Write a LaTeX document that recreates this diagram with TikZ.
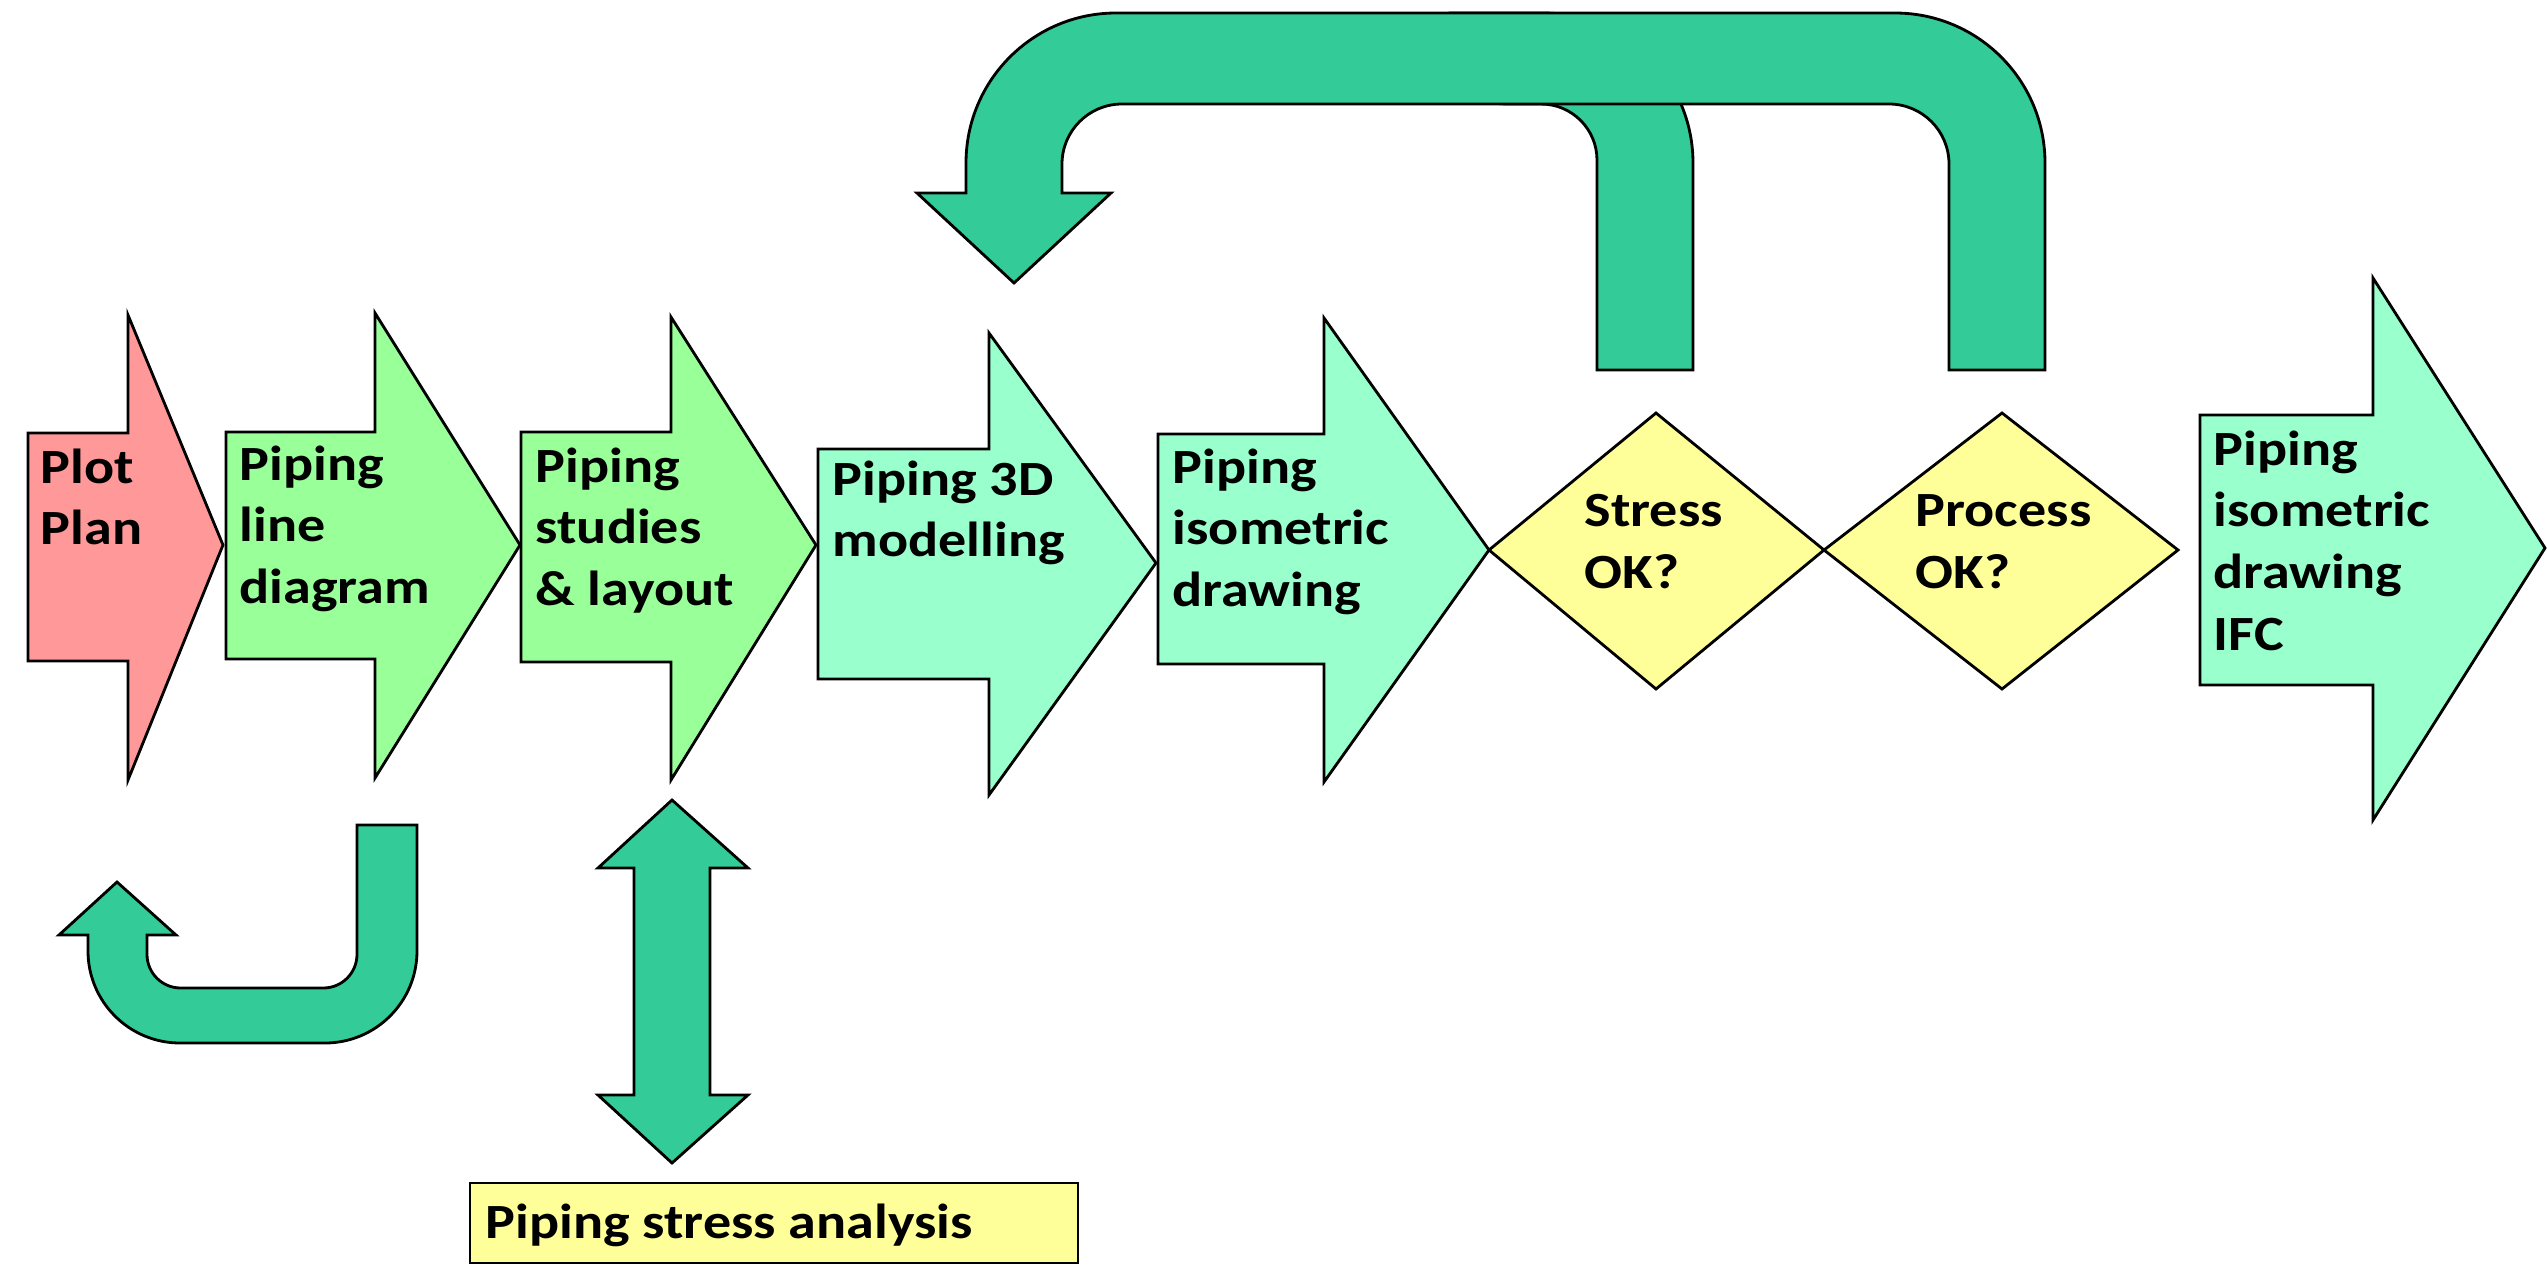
\documentclass[tikz,border=0pt]{standalone}
\usepackage{fontspec}
\setmainfont{Carlito}
\usepackage{xcolor}
\definecolor{plotred}{HTML}{FF9999}
\definecolor{stagegreen}{HTML}{99FF99}
\definecolor{stageaqua}{HTML}{99FFCC}
\definecolor{checkyellow}{HTML}{FFFF99}
\definecolor{loopteal}{HTML}{33CC99}
\tikzset{
  stage_/.style = {draw, line width=1pt},
  check_/.style = {draw, line width=1pt, fill=checkyellow},
  back_/.style  = {draw, line width=1pt, fill=loopteal},
  label_/.style = {anchor=north west, inner sep=0pt, align=left,
                   xscale=1.14, transform shape,
                   font=\bfseries\fontsize{17.5}{22}\selectfont,
                   execute at begin node=\strut}
}

\begin{document}
\begin{tikzpicture}
	[
	x = 0.0125cm,
	y = -0.0125cm
	]
	\useasboundingbox (0,0) rectangle (2547,1264);

	\draw [stage_, fill=plotred] (28,433) -- (128,433) -- (128,315) -- (223,545) -- (128,780) -- (128,661) -- (28,661) -- cycle;
	\draw [stage_, fill=stagegreen] (226,432) -- (375,432) -- (375,313) -- (520,545) -- (375,778) -- (375,659) -- (226,659) -- cycle;
	\draw [stage_, fill=stagegreen] (521,432) -- (671,432) -- (671,317) -- (816,545) -- (671,780) -- (671,662) -- (521,662) -- cycle;
	\draw [stage_, fill=stageaqua] (818,449) -- (989,449) -- (989,333) -- (1156,563) -- (989,795) -- (989,679) -- (818,679) -- cycle;
	\draw [stage_, fill=stageaqua] (1158,434) -- (1324,434) -- (1324,318) -- (1489,550) -- (1324,782) -- (1324,664) -- (1158,664) -- cycle;
	\draw [check_] (1489,550) -- (1656,413) -- (1824,550) -- (1656,689) -- cycle;
	\draw [check_] (1824,550) -- (2002,413) -- (2178,550) -- (2002,689) -- cycle;
	\draw [stage_, fill=stageaqua] (2200,415) -- (2373,415) -- (2373,278) -- (2545,548) -- (2373,820) -- (2373,685) -- (2200,685) -- cycle;
	\draw [check_] (470,1183) rectangle (1078,1263);

	\node [label_] (plot)    at (40,448)   {Plot\\Plan};
	\node [label_] (line)    at (239,445)  {Piping\\line\\diagram};
	\node [label_] (studies) at (535,447)  {Piping\\studies\\\& layout};
	\node [label_] (model)   at (832,460)  {Piping 3D\\modelling};
	\node [label_] (iso)     at (1172,448) {Piping\\isometric\\drawing};
	\node [label_] (stress)  at (1584,494) {Stress\\OK?};
	\node [label_] (process) at (1915,494) {Process\\OK?};
	\node [label_] (ifc)     at (2213,430) {Piping\\isometric\\drawing\\IFC};
	\node [label_] (psa)     at (485,1195) {Piping stress analysis};

	\draw [back_] (417,825) -- (357,825) [rounded corners=0.42cm] -- (357,988) -- (147,988) [sharp corners] -- (147,935) -- (176,935) -- (117,882) -- (59,935) -- (88,935) [rounded corners=1.15cm] -- (88,1043) -- (417,1043) [sharp corners] -- cycle;
	\draw [back_] (672,800) -- (748,868) -- (710,868) -- (710,1095) -- (748,1095) -- (672,1163) -- (598,1095) -- (634,1095) -- (634,868) -- (598,868) -- cycle;
	\draw [back_] (1597,370) [rounded corners=0.7cm] -- (1597,104) -- (1450,104) [sharp corners] -- (1450,13) [rounded corners=1.875cm] -- (1693,13) [sharp corners] -- (1693,370) -- cycle;
	\draw [back_] (1014,283) -- (1111,193) -- (1062,193) [rounded corners=0.75cm] -- (1062,104) -- (1949,104) [sharp corners] -- (1949,370) -- (2045,370) [rounded corners=1.875cm] -- (2045,13) -- (966,13) [sharp corners] -- (966,193) -- (917,193) -- cycle;
\end{tikzpicture}
\end{document}
